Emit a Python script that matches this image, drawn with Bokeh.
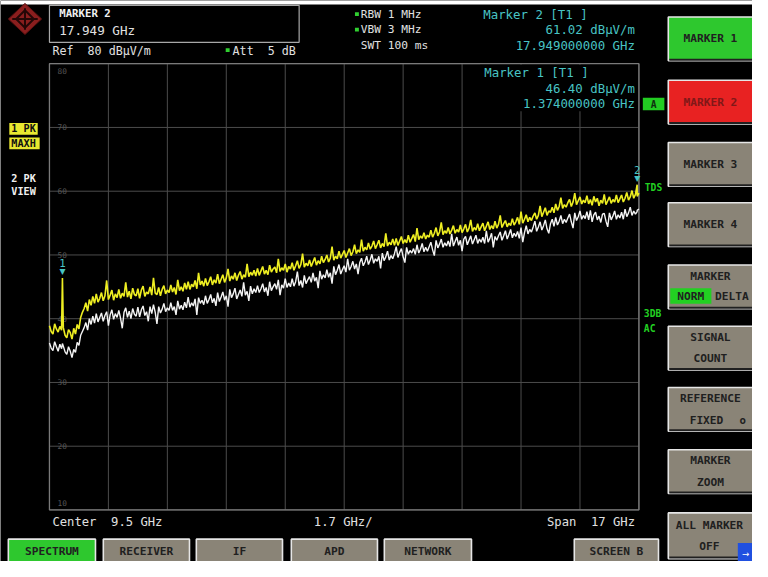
from bokeh.plotting import figure
from bokeh.models import Range1d
from bokeh.embed import file_html
from bokeh.resources import INLINE
from bokeh.core.properties import value

# ---------------- data ----------------
freq_ghz = [
    1.00, 1.05, 1.10, 1.15, 1.20, 1.25, 1.30, 1.35, 1.374, 1.40, 1.45,
    1.50, 1.55, 1.60, 1.65, 1.70, 1.75, 1.80, 1.85, 1.90, 1.95,
    2.00, 2.05, 2.10, 2.15, 2.20, 2.25, 2.30, 2.35, 2.40, 2.45,
    2.50, 2.55, 2.60, 2.65, 2.70, 2.75, 2.80, 2.85, 2.90, 2.95,
    3.00, 3.05, 3.10, 3.15, 3.20, 3.25, 3.30, 3.35, 3.40, 3.45,
    3.50, 3.55, 3.60, 3.65, 3.70, 3.75, 3.80, 3.85, 3.90, 3.95,
    4.00, 4.05, 4.10, 4.15, 4.20, 4.25, 4.30, 4.35, 4.40, 4.45,
    4.50, 4.55, 4.60, 4.65, 4.70, 4.75, 4.80, 4.85, 4.90, 4.95,
    5.00, 5.05, 5.10, 5.15, 5.20, 5.25, 5.30, 5.35, 5.40, 5.45,
    5.50, 5.55, 5.60, 5.65, 5.70, 5.75, 5.80, 5.85, 5.90, 5.95,
    6.00, 6.05, 6.10, 6.15, 6.20, 6.25, 6.30, 6.35, 6.40, 6.45,
    6.50, 6.55, 6.60, 6.65, 6.70, 6.75, 6.80, 6.85, 6.90, 6.95,
    7.00, 7.05, 7.10, 7.15, 7.20, 7.25, 7.30, 7.35, 7.40, 7.45,
    7.50, 7.55, 7.60, 7.65, 7.70, 7.75, 7.80, 7.85, 7.90, 7.95,
    8.00, 8.05, 8.10, 8.15, 8.20, 8.25, 8.30, 8.35, 8.40, 8.45,
    8.50, 8.55, 8.60, 8.65, 8.70, 8.75, 8.80, 8.85, 8.90, 8.95,
    9.00, 9.05, 9.10, 9.15, 9.20, 9.25, 9.30, 9.35, 9.40, 9.45,
    9.50, 9.55, 9.60, 9.65, 9.70, 9.75, 9.80, 9.85, 9.90, 9.95,
    10.00, 10.05, 10.10, 10.15, 10.20, 10.25, 10.30, 10.35, 10.40, 10.45,
    10.50, 10.55, 10.60, 10.65, 10.70, 10.75, 10.80, 10.85, 10.90, 10.95,
    11.00, 11.05, 11.10, 11.15, 11.20, 11.25, 11.30, 11.35, 11.40, 11.45,
    11.50, 11.55, 11.60, 11.65, 11.70, 11.75, 11.80, 11.85, 11.90, 11.95,
    12.00, 12.05, 12.10, 12.15, 12.20, 12.25, 12.30, 12.35, 12.40, 12.45,
    12.50, 12.55, 12.60, 12.65, 12.70, 12.75, 12.80, 12.85, 12.90, 12.95,
    13.00, 13.05, 13.10, 13.15, 13.20, 13.25, 13.30, 13.35, 13.40, 13.45,
    13.50, 13.55, 13.60, 13.65, 13.70, 13.75, 13.80, 13.85, 13.90, 13.95,
    14.00, 14.05, 14.10, 14.15, 14.20, 14.25, 14.30, 14.35, 14.40, 14.45,
    14.50, 14.55, 14.60, 14.65, 14.70, 14.75, 14.80, 14.85, 14.90, 14.95,
    15.00, 15.05, 15.10, 15.15, 15.20, 15.25, 15.30, 15.35, 15.40, 15.45,
    15.50, 15.55, 15.60, 15.65, 15.70, 15.75, 15.80, 15.85, 15.90, 15.95,
    16.00, 16.05, 16.10, 16.15, 16.20, 16.25, 16.30, 16.35, 16.40, 16.45,
    16.50, 16.55, 16.60, 16.65, 16.70, 16.75, 16.80, 16.85, 16.90, 16.95,
    17.00, 17.05, 17.10, 17.15, 17.20, 17.25, 17.30, 17.35, 17.40, 17.45,
    17.50, 17.55, 17.60, 17.65, 17.70, 17.75, 17.80, 17.85, 17.90, 17.949, 17.95, 18.00]

# trace 1: PK MAXH (yellow), dBuV/m
maxh_dbuv = [
    38.9, 38.0, 37.6, 39.2, 38.4, 37.9, 38.8, 38.2, 46.4, 38.6, 37.4,
    37.0, 38.3, 37.8, 36.8, 38.5, 37.6, 39.1, 38.4, 40.2, 41.0,
    41.6, 42.5, 41.2, 43.0, 42.1, 43.5, 42.4, 43.9, 42.6, 43.2,
    44.1, 42.8, 43.6, 46.0, 43.0, 43.7, 44.5, 42.9, 43.9, 43.3,
    44.6, 43.2, 44.0, 43.5, 45.7, 43.4, 44.3, 43.1, 44.8, 43.8,
    43.6, 44.7, 43.2, 44.5, 45.1, 43.5, 44.2, 43.9, 45.0, 43.7,
    46.4, 44.0, 43.8, 44.9, 43.6, 44.6, 45.2, 43.9, 44.5, 44.1,
    45.3, 44.2, 44.9, 43.8, 46.1, 44.4, 45.0, 44.3, 45.6, 44.6,
    45.8, 44.6, 45.4, 45.0, 46.0, 44.7, 47.2, 45.3, 45.9, 45.1,
    46.3, 45.2, 45.8, 46.6, 45.3, 46.1, 45.6, 47.0, 45.5, 46.2,
    46.9, 45.7, 46.4, 47.8, 45.9, 46.7, 46.2, 47.2, 46.0, 46.8,
    47.4, 46.2, 46.9, 46.5, 48.6, 46.6, 47.3, 46.8, 47.6, 46.7,
    47.9, 46.8, 47.5, 48.2, 47.0, 47.6, 46.9, 48.4, 47.3, 47.8,
    48.1, 47.2, 49.4, 47.4, 48.0, 47.6, 48.6, 47.3, 48.2, 47.8,
    48.8, 47.6, 48.3, 49.1, 47.9, 48.5, 50.2, 48.1, 48.7, 48.3,
    49.2, 48.2, 48.9, 49.6, 48.4, 49.1, 48.6, 49.8, 48.8, 49.3,
    50.0, 48.9, 49.5, 51.3, 49.2, 49.8, 49.4, 50.6, 49.5, 50.1,
    50.7, 49.6, 50.3, 51.0, 49.9, 50.5, 51.6, 50.2, 50.8, 50.4,
    52.4, 50.6, 51.2, 50.8, 51.9, 50.9, 51.4, 52.2, 51.0, 51.6,
    52.3, 51.1, 51.8, 51.3, 53.4, 51.4, 52.0, 51.6, 52.5, 51.5,
    52.6, 51.5, 52.2, 52.9, 51.8, 52.4, 51.9, 53.1, 52.0, 52.6,
    53.2, 52.1, 54.2, 52.4, 53.0, 52.6, 53.5, 52.5, 53.1, 52.8,
    53.9, 52.8, 53.4, 54.3, 53.0, 53.6, 55.1, 53.2, 53.8, 53.4,
    54.3, 53.3, 53.9, 54.6, 53.4, 54.0, 53.6, 54.7, 53.5, 54.1,
    54.8, 53.6, 54.2, 55.5, 53.7, 54.3, 53.9, 54.9, 53.8, 54.4,
    55.0, 53.8, 54.5, 55.2, 54.0, 54.6, 54.1, 55.3, 54.2, 54.8,
    56.2, 54.3, 54.9, 55.4, 54.4, 55.0, 54.6, 55.7, 54.7, 55.2,
    55.9, 54.8, 56.8, 55.0, 55.6, 56.3, 55.2, 55.9, 55.4, 56.1,
    56.6, 55.6, 56.2, 57.7, 56.0, 56.7, 57.4, 56.2, 56.9, 56.7,
    57.5, 56.6, 58.0, 57.0, 57.6, 59.0, 57.3, 57.9, 57.5, 58.2,
    58.7, 57.6, 58.3, 59.7, 57.9, 58.5, 59.1, 58.0, 58.6, 58.2,
    59.3, 58.0, 58.7, 57.8, 59.2, 58.3, 58.9, 57.7, 58.6, 58.1,
    59.5, 57.9, 58.5, 59.1, 58.1, 58.7, 58.3, 59.4, 58.2, 58.8,
    59.4, 58.3, 58.9, 59.8, 58.6, 59.1, 60.1, 58.9, 59.5, 61.02, 59.2, 59.7]

# trace 2: PK VIEW (white), dBuV/m
view_dbuv = [
    36.2, 35.4, 35.0, 36.4, 35.6, 34.9, 36.0, 35.3, 36.1, 35.7, 34.8,
    34.4, 35.6, 34.9, 33.9, 35.2, 34.7, 36.3, 35.8, 37.4, 38.0,
    38.6, 39.4, 38.2, 40.0, 39.1, 40.4, 39.3, 40.8, 39.5, 40.2,
    40.9, 39.6, 40.5, 41.1, 38.9, 40.6, 41.4, 39.9, 40.8, 40.2,
    41.3, 40.1, 38.5, 41.0, 41.7, 40.2, 41.2, 40.0, 41.6, 40.7,
    40.4, 41.8, 40.3, 41.4, 42.0, 40.5, 41.1, 39.6, 41.9, 40.8,
    42.2, 41.0, 39.2, 41.9, 40.9, 41.5, 42.4, 41.1, 41.7, 41.3,
    42.5, 41.3, 41.9, 40.6, 42.8, 41.5, 42.1, 41.4, 42.6, 41.7,
    43.4, 41.8, 42.5, 42.0, 43.1, 40.6, 43.3, 42.4, 42.9, 42.2,
    43.6, 42.4, 43.0, 43.8, 42.5, 43.2, 42.0, 44.1, 42.7, 43.4,
    44.2, 42.9, 43.6, 41.9, 44.6, 43.3, 43.9, 44.8, 43.1, 43.8,
    44.5, 43.5, 45.7, 43.7, 44.3, 42.8, 45.1, 43.9, 44.7, 44.1,
    45.2, 44.1, 44.7, 45.5, 44.2, 44.9, 43.6, 45.8, 44.4, 45.0,
    45.5, 44.6, 46.1, 43.7, 45.3, 44.8, 46.3, 44.9, 45.6, 45.0,
    46.3, 45.1, 45.8, 47.4, 45.2, 46.0, 44.9, 46.8, 45.5, 46.1,
    46.6, 45.7, 47.2, 45.9, 46.5, 44.8, 47.5, 46.2, 46.9, 46.4,
    47.7, 46.5, 47.2, 45.5, 48.2, 46.9, 47.6, 48.5, 47.0, 47.7,
    48.3, 47.3, 49.4, 47.6, 48.2, 49.0, 47.8, 48.6, 47.0, 48.8,
    49.5, 48.3, 48.9, 49.8, 48.5, 49.2, 50.1, 48.7, 49.4, 49.0,
    49.8, 47.9, 50.3, 49.1, 49.7, 50.6, 49.2, 49.9, 49.4, 50.2,
    51.3, 49.6, 50.4, 51.0, 49.7, 48.8, 51.2, 50.1, 50.7, 50.3,
    51.0, 50.1, 51.6, 50.3, 50.9, 51.8, 50.5, 51.2, 50.6, 51.3,
    52.0, 50.8, 49.9, 52.3, 51.1, 51.7, 52.5, 51.2, 51.9, 51.4,
    52.2, 51.3, 53.3, 51.4, 52.1, 52.8, 51.5, 52.3, 50.6, 52.5,
    52.9, 51.6, 52.3, 53.0, 51.7, 52.4, 53.1, 51.8, 52.5, 52.0,
    52.8, 51.8, 53.8, 52.0, 52.6, 53.4, 51.2, 52.9, 52.3, 53.0,
    53.6, 52.3, 53.0, 53.8, 52.5, 53.2, 54.0, 52.7, 53.4, 52.9,
    53.7, 52.6, 54.3, 52.0, 53.5, 54.6, 53.3, 54.0, 53.6, 54.4,
    55.3, 53.7, 54.4, 55.2, 53.9, 54.6, 55.5, 54.1, 53.4, 54.9,
    55.6, 54.5, 55.9, 54.7, 55.3, 56.2, 54.9, 55.6, 55.1, 55.8,
    56.4, 55.2, 54.2, 56.6, 55.4, 56.0, 56.9, 55.6, 56.2, 55.7,
    56.8, 55.5, 57.0, 55.2, 56.3, 56.7, 55.5, 56.1, 55.1, 56.4,
    56.5, 55.3, 54.4, 56.6, 55.5, 56.1, 56.9, 55.6, 56.3, 55.8,
    56.7, 55.6, 57.2, 56.0, 56.6, 57.5, 56.2, 56.9, 56.4, 56.8, 57.0, 57.2]

grid_freq_ghz = [1.0, 2.7, 4.4, 6.1, 7.8, 9.5, 11.2, 12.9, 14.6, 16.3, 18.0]
grid_level_db = [80, 70, 60, 50, 40, 30, 20, 10]
level_tick_labels = ["80", "70", "60", "50", "40", "30", "20", "10"]

marker_freq_ghz = [1.374, 17.949]
marker_level_dbuv = [46.40, 61.02]
marker_names = ["1", "2"]

# ---------------- layout (reference pixels) ----------------
W, H = 752, 561
RW, RH = 768, 577
S = H / RH
PL, PR, PT, PB = 50, 652, 65, 524          # plot frame in reference pixels
F0, F1, L_TOP, L_BOT = 1.0, 18.0, 80.0, 10.0
gpx = (F1 - F0) / (PR - PL)
lpx = (L_TOP - L_BOT) / (PB - PT)

p = figure(width=W, height=H, output_backend="svg", toolbar_location=None,
           x_axis_location=None, y_axis_location=None, min_border=0,
           x_range=Range1d(F0 - PL * gpx, F1 + (RW - PR) * gpx),
           y_range=Range1d(L_BOT - (RH - PB) * lpx, L_TOP + PT * lpx))
p.extra_x_ranges = {"px": Range1d(0, RW)}
p.extra_y_ranges = {"py": Range1d(RH, 0)}
p.grid.visible = False
p.outline_line_color = None
p.background_fill_color = "#000000"
p.border_fill_color = "#000000"

MONO = "DejaVu Sans Mono"
PXR = dict(x_range_name="px", y_range_name="py")
NB = "\u00a0"


def txt(x, y, s, color, size, align="left", bold=False, font=MONO):
    p.text(x=[x], y=[y], text=[s.replace(" ", NB)], text_color=color,
           text_font_size=f"{size * S:.1f}px", text_align=align,
           text_baseline="middle", text_font=value(font),
           text_font_style="bold" if bold else "normal", **PXR)


def box(l, t, r, b, fill, line=None, lw=1.0):
    p.quad(left=[l], right=[r], top=[t], bottom=[b], fill_color=fill,
           line_color=line, line_width=lw, **PXR)


def hline(x0, x1, y, color, lw=1.0):
    p.segment(x0=[x0], x1=[x1], y0=[y], y1=[y], line_color=color, line_width=lw, **PXR)


# top strip (cut page title)
box(0, 0, RW, 4, "#ffffff")

# logo
p.patch(x=[25, 42, 25, 8], y=[3, 19, 35, 19], fill_color="#8a1e1e", line_color="#5a1010", **PXR)
p.multi_line(xs=[[16, 25, 34], [16, 25, 34], [25, 25], [12, 38]],
             ys=[[19, 10, 19], [19, 28, 19], [8, 30], [19, 19]],
             line_color="#240707", line_width=2, **PXR)

# marker info box
box(50, 5, 305, 43, "#000000", "#a8a8a8", 1.2)
txt(60, 13, "MARKER 2", "#f0f0f0", 11, bold=True)
txt(60, 31, "17.949 GHz", "#e0e0e0", 13)
txt(53, 52, "Ref  80 dB\u00b5V/m", "#e0e0e0", 12)
box(230, 49, 234, 53, "#30d030")
txt(237, 52, "Att  5 dB", "#e0e0e0", 12)
box(362, 12, 366, 16, "#30d030")
txt(368, 14, "RBW 1 MHz", "#e0e0e0", 11.5)
box(362, 28, 366, 32, "#30d030")
txt(368, 30, "VBW 3 MHz", "#e0e0e0", 11.5)
txt(368, 46, "SWT 100 ms", "#e0e0e0", 11.5)

CY = "#48c4c4"
txt(493, 14, "Marker 2 [T1 ]", CY, 12.8)
txt(648, 30, "61.02 dB\u00b5V/m", CY, 12.8, align="right")
txt(648, 46, "17.949000000 GHz", CY, 12.8, align="right")

# grid (data coordinates)
p.segment(x0=grid_freq_ghz, x1=grid_freq_ghz,
          y0=[grid_level_db[-1]] * len(grid_freq_ghz), y1=[grid_level_db[0]] * len(grid_freq_ghz),
          line_color="#4c4c4c", line_width=1)
p.segment(x0=[grid_freq_ghz[0]] * len(grid_level_db), x1=[grid_freq_ghz[-1]] * len(grid_level_db),
          y0=grid_level_db, y1=grid_level_db, line_color="#4c4c4c", line_width=1)
p.quad(left=[grid_freq_ghz[0]], right=[grid_freq_ghz[-1]], bottom=[grid_level_db[-1]],
       top=[grid_level_db[0]], fill_color=None, line_color="#7a7a7a", line_width=1.3)

# grid labels (first below top line, last above bottom line)
n_lv = len(grid_level_db)
p.text(x=[grid_freq_ghz[0]] * n_lv, y=grid_level_db, text=level_tick_labels,
       x_offset=8, y_offset=[7 if i == 0 else (-7 if i == n_lv - 1 else 0) for i in range(n_lv)],
       text_color="#555555", text_font_size=f"{8 * S:.1f}px", text_baseline="middle",
       text_font=value(MONO))

# black background behind marker 1 readout
box(490, 66, 651, 114, "#000000")
txt(494, 74, "Marker 1 [T1 ]", CY, 12.8)
txt(648, 90, "46.40 dB\u00b5V/m", CY, 12.8, align="right")
txt(648, 106, "1.374000000 GHz", CY, 12.8, align="right")
box(656, 100, 678, 113, "#22cc22")
txt(667, 107, "A", "#103010", 10, align="center", bold=True)

# traces
p.line(freq_ghz, maxh_dbuv, line_color="#eeee22", line_width=1.6)
p.line(freq_ghz, view_dbuv, line_color="#f4f4f4", line_width=1.4)

# markers
p.text(x=marker_freq_ghz, y=marker_level_dbuv, text=["\u25bc"] * len(marker_freq_ghz),
       y_offset=-2, text_align="center", text_baseline="bottom", text_color=CY,
       text_font_size=f"{8 * S:.1f}px", text_font=value("DejaVu Sans"))
p.text(x=marker_freq_ghz, y=marker_level_dbuv, text=marker_names,
       y_offset=-11, text_align="center", text_baseline="bottom", text_color=CY,
       text_font_size=f"{11 * S:.1f}px", text_font=value(MONO))

# left trace labels
box(9, 126, 38, 138, "#e8e830")
txt(11, 132, "1 PK", "#101010", 10.5, bold=True)
box(9, 141, 40, 153, "#e8e830")
txt(11, 147, "MAXH", "#101010", 10.5, bold=True)
txt(11, 183, "2 PK", "#f0f0f0", 10.5, bold=True)
txt(11, 196, "VIEW", "#f0f0f0", 10.5, bold=True)

# right small labels
GR = "#22d022"
txt(658, 192, "TDS", GR, 10, bold=True)
txt(657, 322, "3DB", GR, 10, bold=True)
txt(657, 337, "AC", GR, 10, bold=True)

# bottom readouts
txt(53, 536, "Center  9.5 GHz", "#e0e0e0", 12.5)
txt(320, 536, "1.7 GHz/", "#e0e0e0", 12.5)
txt(648, 536, "Span  17 GHz", "#e0e0e0", 12.5, align="right")

# buttons
GRAY = "#8a8477"


def button(l, t, r, b, fill, lines, tcol="#202020", cx=None):
    box(l, t, r, b, fill, "#e6e6e6", 1.6)
    hline(l + 1, r, b - 1, "#202020", 2)
    cx = (l + r) / 2 if cx is None else cx
    n = len(lines)
    cy = (t + b) / 2
    for i, s in enumerate(lines):
        y = cy + (i - (n - 1) / 2) * 22
        txt(cx, y, s, tcol, 11.5, align="center", bold=True)


tops = [17, 82, 146, 208, 272, 335, 398, 462, 527]
button(682, tops[0], 772, tops[0] + 45, "#2ec82e", ["MARKER 1"], cx=725)
button(682, tops[1], 772, tops[1] + 45, "#e82222", ["MARKER 2"], tcol="#801818", cx=725)
button(682, tops[2], 772, tops[2] + 45, GRAY, ["MARKER 3"], cx=725)
button(682, tops[3], 772, tops[3] + 45, GRAY, ["MARKER 4"], cx=725)
button(682, tops[4], 772, tops[4] + 45, GRAY, [], cx=725)
txt(725, tops[4] + 12, "MARKER", "#202020", 11.5, align="center", bold=True)
box(684, tops[4] + 24, 726, tops[4] + 40, "#22d022")
txt(705, tops[4] + 32, "NORM", "#202020", 11.5, align="center", bold=True)
txt(747, tops[4] + 32, "DELTA", "#202020", 11.5, align="center", bold=True)
button(682, tops[5], 772, tops[5] + 45, GRAY, ["SIGNAL", "COUNT"], cx=725)
button(682, tops[6], 772, tops[6] + 45, GRAY, ["REFERENCE", ""], cx=725)
txt(721, tops[6] + 34, "FIXED", "#202020", 11.5, align="center", bold=True)
txt(758, tops[6] + 34, "o", "#202020", 11, align="center", bold=True)
button(682, tops[7], 772, tops[7] + 45, GRAY, ["MARKER", "ZOOM"], cx=725)
button(682, tops[8], 772, tops[8] + 47, GRAY, ["ALL MARKER", "OFF"], cx=724)
box(753, 558, 768, 577, "#2050e0")
txt(761, 569, "\u2192", "#ffffff", 9, align="center", font="DejaVu Sans")

bottom = [(8, 97, "#2ec82e", "SPECTRUM"), (105, 193, GRAY, "RECEIVER"), (200, 288, GRAY, "IF"),
          (297, 385, GRAY, "APD"), (392, 481, GRAY, "NETWORK"), (586, 672, GRAY, "SCREEN B")]
for l, r, c, s in bottom:
    button(l, 554, r, 579, c, [s])

open("out.html", "w").write(file_html(p, INLINE))
